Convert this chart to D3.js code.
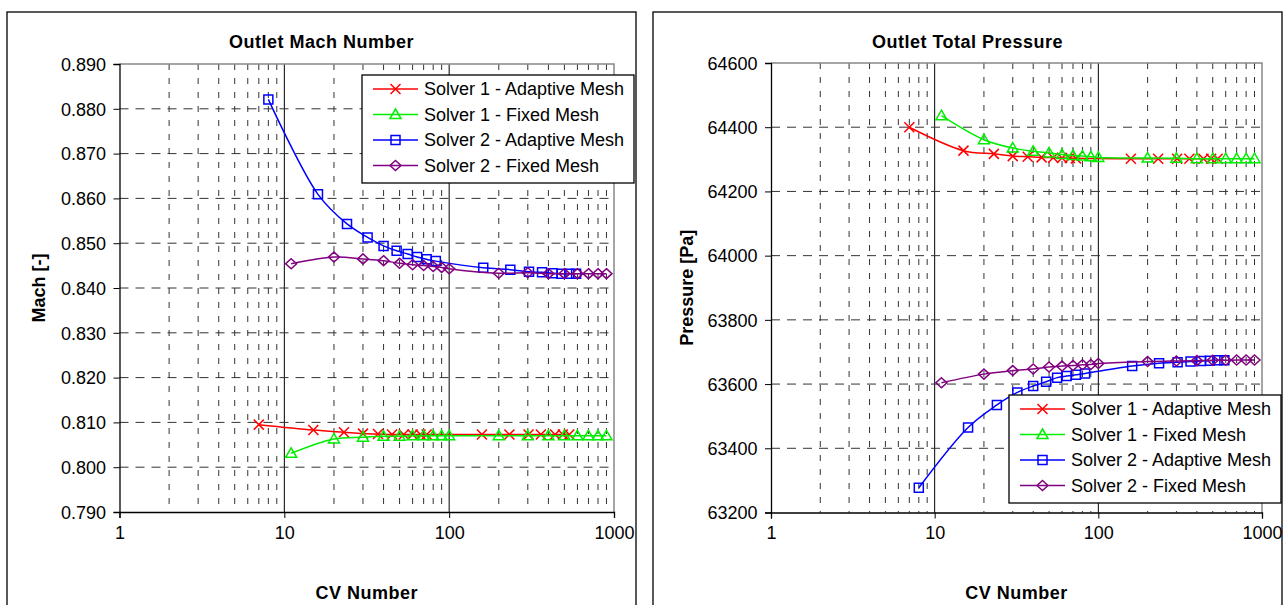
<!DOCTYPE html>
<html>
<head>
<meta charset="utf-8">
<script src="https://cdn.jsdelivr.net/npm/d3@7"></script>
<style>
  body { margin: 0; background: #fff; }
  svg { display: block; font-family: "Liberation Sans", Arial, sans-serif; }
</style>
</head>
<body>
<div id="chart"></div>
<script>
// CV numbers for each run
var cvS1A = [7, 15, 23, 30, 37, 45, 53, 60, 67, 73, 158, 232, 303, 360, 439, 489, 536]
var cvS1F = [11, 20, 30, 40, 50, 60, 70, 80, 90, 100, 200, 300, 400, 500, 600, 700, 800, 900]
var cvS2A = [8, 16, 24, 32, 40, 48, 56, 64, 73, 83, 161, 235, 305, 366, 425, 480, 535, 589]
var cvS2F = [11, 20, 30, 40, 50, 60, 70, 80, 90, 100, 200, 300, 400, 500, 600, 700, 800, 900]

// outlet mach number
var machS1A = [0.8095, 0.8083, 0.8078, 0.8075, 0.8074, 0.8073, 0.8073, 0.8073, 0.8073, 0.8073, 0.8073, 0.8073, 0.8073, 0.8073, 0.8073, 0.8073, 0.8073]
var machS1F = [0.8031, 0.8063, 0.8067, 0.8069, 0.8069, 0.8070, 0.8070, 0.8070, 0.8070, 0.8070, 0.8070, 0.8070, 0.8070, 0.8070, 0.8070, 0.8070, 0.8070, 0.8070]
var machS2A = [0.8821, 0.8609, 0.8543, 0.8513, 0.8494, 0.8483, 0.8476, 0.8469, 0.8464, 0.8460, 0.8445, 0.8441, 0.8436, 0.8435, 0.8433, 0.8432, 0.8432, 0.8432]
var machS2F = [0.8454, 0.8469, 0.8465, 0.8461, 0.8455, 0.8452, 0.8450, 0.8448, 0.8446, 0.8443, 0.8433, 0.8434, 0.8432, 0.8432, 0.8432, 0.8432, 0.8432, 0.8432]

// outlet total pressure [Pa]
var presS1A = [64400, 64327, 64317, 64310, 64308, 64306, 64305, 64304, 64304, 64303, 64302, 64302, 64302, 64302, 64302, 64302, 64302]
var presS1F = [64436, 64361, 64335, 64325, 64320, 64315, 64312, 64310, 64308, 64306, 64304, 64303, 64302, 64302, 64302, 64302, 64302, 64302]
var presS2A = [63277, 63465, 63535, 63574, 63594, 63607, 63620, 63625, 63629, 63633, 63656, 63665, 63668, 63670, 63672, 63673, 63674, 63674]
var presS2F = [63604, 63631, 63642, 63647, 63653, 63656, 63658, 63660, 63661, 63664, 63670, 63672, 63673, 63674, 63674, 63675, 63675, 63675]

var seriesNames = ["Solver 1 - Adaptive Mesh", "Solver 1 - Fixed Mesh", "Solver 2 - Adaptive Mesh", "Solver 2 - Fixed Mesh"]
var xTicks = [1, 10, 100, 1000]
var machTicks = [0.79, 0.80, 0.81, 0.82, 0.83, 0.84, 0.85, 0.86, 0.87, 0.88, 0.89]
var presTicks = [63200, 63400, 63600, 63800, 64000, 64200, 64400, 64600]

var colors = ["#ff0000", "#00ee00", "#0000ff", "#800080"]
var shapes = ["x", "tri", "sq", "dia"]

var svg = d3.select("#chart").append("svg")
  .attr("width", 1288)
  .attr("height", 605)

function marker(g, shape, color) {
  var p
  if (shape == "x") p = "M-5,-5L5,5M-5,5L5,-5"
  else if (shape == "tri") p = "M0,-5.5L5.5,4L-5.5,4Z"
  else if (shape == "sq") p = "M-4.5,-4.5H4.5V4.5H-4.5Z"
  else p = "M0,-5L5.5,0L0,5L-5.5,0Z"
  g.append("path").attr("d", p)
    .attr("fill", "none")
    .attr("stroke", color)
    .attr("stroke-width", 1.5)
}

function drawChart(o) {
  var g = svg.append("g")

  // chart area frame
  g.append("rect")
    .attr("x", o.box[0]).attr("y", o.box[1])
    .attr("width", o.box[2] - o.box[0]).attr("height", 640)
    .attr("fill", "#fff").attr("stroke", "#000").attr("stroke-width", 1.3)

  var x = d3.scaleLog().domain([1, 1000]).range([o.plot[0], o.plot[2]])
  var y = d3.scaleLinear().domain(o.yDomain).range([o.plot[3], o.plot[1]])

  // vertical gridlines: minor dashed, decades solid
  var minor = []
  ;[1, 10, 100].forEach(function(d) {
    for (var k = 2; k <= 9; k++) minor.push(d * k)
  })
  g.selectAll(".vminor").data(minor).enter().append("line")
    .attr("x1", d => x(d)).attr("x2", d => x(d))
    .attr("y1", o.plot[1]).attr("y2", o.plot[3])
    .attr("stroke", "#333").attr("stroke-width", 1)
    .attr("stroke-dasharray", "6,8")
  g.selectAll(".vmajor").data([10, 100]).enter().append("line")
    .attr("x1", d => x(d)).attr("x2", d => x(d))
    .attr("y1", o.plot[1]).attr("y2", o.plot[3])
    .attr("stroke", "#000").attr("stroke-width", 1)

  // horizontal gridlines
  g.selectAll(".hgrid").data(o.yTicks.slice(1, -1)).enter().append("line")
    .attr("x1", o.plot[0]).attr("x2", o.plot[2])
    .attr("y1", d => y(d)).attr("y2", d => y(d))
    .attr("stroke", "#333").attr("stroke-width", 1)
    .attr("stroke-dasharray", "9,7")

  // plot area border (top / right grey)
  g.append("path")
    .attr("d", "M" + o.plot[0] + "," + o.plot[1] + "H" + o.plot[2] + "V" + o.plot[3])
    .attr("fill", "none").attr("stroke", "#888").attr("stroke-width", 1.5)

  // axes
  var yAxis = d3.axisLeft(y).tickValues(o.yTicks).tickSize(6).tickFormat(o.yFormat)
  var xAxis = d3.axisBottom(x).tickValues(xTicks).tickSize(6).tickFormat(d3.format("d"))
  var ya = g.append("g").attr("transform", "translate(" + o.plot[0] + ",0)").call(yAxis)
  var xa = g.append("g").attr("transform", "translate(0," + o.plot[3] + ")").call(xAxis)
  ;[ya, xa].forEach(function(a) {
    a.select(".domain").attr("stroke", "#000").attr("stroke-width", 1.3)
    a.selectAll(".tick line").attr("stroke", "#000")
    a.selectAll("text").attr("fill", "#000").style("font-size", "18px")
      .style("font-family", "Liberation Sans, Arial, sans-serif")
  })
  ya.selectAll("text").attr("x", -13.5).attr("dy", "0.35em")
  xa.selectAll("text").attr("y", 14).attr("dy", "0.71em")

  // series lines + markers
  var line = d3.line()
    .x(d => x(d[0])).y(d => y(d[1]))
    .curve(d3.curveCatmullRom.alpha(0.5))
  o.series.forEach(function(s, i) {
    var pts = s.cv.map((c, j) => [c, s.val[j]])
    g.append("path").datum(pts)
      .attr("d", line).attr("fill", "none")
      .attr("stroke", colors[i]).attr("stroke-width", 1.5)
    pts.forEach(function(p) {
      var m = g.append("g").attr("transform", "translate(" + x(p[0]) + "," + y(p[1]) + ")")
      marker(m, shapes[i], colors[i])
    })
  })

  // titles
  g.append("text")
    .attr("x", (o.box[0] + o.box[2]) / 2).attr("y", 48)
    .attr("text-anchor", "middle")
    .style("font-size", "18px").style("font-weight", "bold").style("letter-spacing", "0.5px")
    .text(o.title)
  g.append("text")
    .attr("x", (o.plot[0] + o.plot[2]) / 2).attr("y", 599)
    .attr("text-anchor", "middle")
    .style("font-size", "18px").style("font-weight", "bold").style("letter-spacing", "0.5px")
    .text("CV Number")
  g.append("text")
    .attr("transform", "translate(" + o.yLabelX + "," + (o.plot[1] + o.plot[3]) / 2 + ") rotate(-90)")
    .attr("text-anchor", "middle").attr("dy", "0.35em")
    .style("font-size", "18px").style("font-weight", "bold")
    .text(o.yLabel)

  // legend
  var lg = g.append("g").attr("transform", "translate(" + o.legend[0] + "," + o.legend[1] + ")")
  lg.append("rect").attr("width", 272).attr("height", 108)
    .attr("fill", "#fff").attr("stroke", "#000").attr("stroke-width", 1.3)
  seriesNames.forEach(function(n, i) {
    var yy = 14 + i * 25.5
    lg.append("line").attr("x1", 11).attr("x2", 56).attr("y1", yy).attr("y2", yy)
      .attr("stroke", colors[i]).attr("stroke-width", 1.5)
    marker(lg.append("g").attr("transform", "translate(33.5," + yy + ")"), shapes[i], colors[i])
    lg.append("text").attr("x", 62).attr("y", yy).attr("dy", "0.35em")
      .style("font-size", "18px").text(n)
  })
}

drawChart({
  box: [7, 12, 636],
  plot: [119.5, 64, 614, 512],
  yDomain: [0.79, 0.89],
  yTicks: machTicks,
  yFormat: d3.format(".3f"),
  title: "Outlet Mach Number",
  yLabel: "Mach [-]",
  yLabelX: 39,
  legend: [362, 75],
  series: [
    { cv: cvS1A, val: machS1A },
    { cv: cvS1F, val: machS1F },
    { cv: cvS2A, val: machS2A },
    { cv: cvS2F, val: machS2F }
  ]
})

drawChart({
  box: [653, 12, 1282],
  plot: [771, 63, 1262, 512.5],
  yDomain: [63200, 64600],
  yTicks: presTicks,
  yFormat: d3.format("d"),
  title: "Outlet Total Pressure",
  yLabel: "Pressure [Pa]",
  yLabelX: 687,
  legend: [1009, 395],
  series: [
    { cv: cvS1A, val: presS1A },
    { cv: cvS1F, val: presS1F },
    { cv: cvS2A, val: presS2A },
    { cv: cvS2F, val: presS2F }
  ]
})
</script>
</body>
</html>
